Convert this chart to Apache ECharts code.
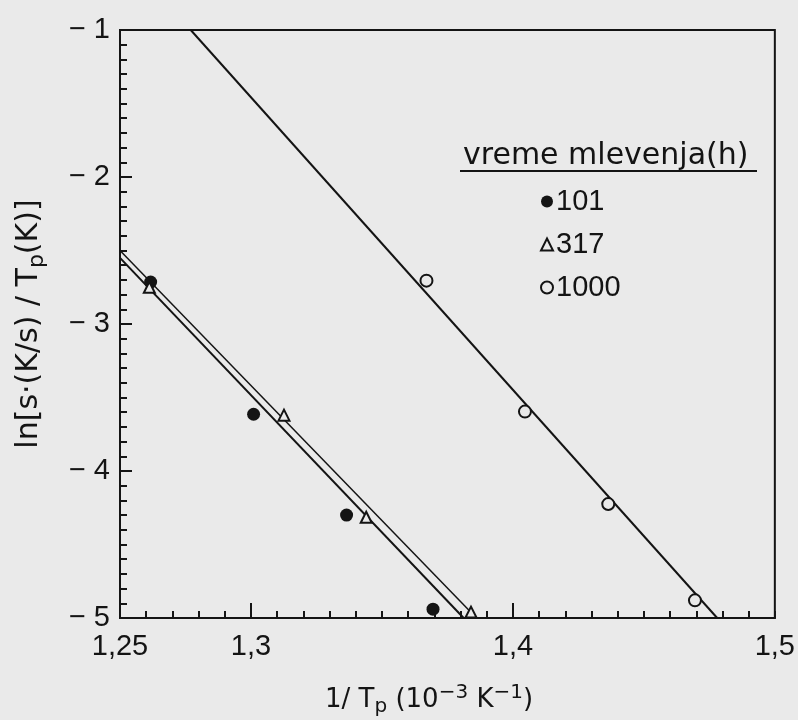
<!DOCTYPE html>
<html>
<head>
<meta charset="utf-8">
<script src="https://cdn.jsdelivr.net/npm/echarts@6/dist/echarts.min.js"></script>
<style>html,body{margin:0;padding:0;background:#eaeaea}#c{width:798px;height:720px}</style>
</head>
<body>
<div id="c"></div>
<script>
// ---- data ----
const seriesNames = ['101', '317', '1000'];
const x101 = [1.2617, 1.3010, 1.3365, 1.3695];
const y101 = [-2.715, -3.614, -4.300, -4.940];
const x317 = [1.2612, 1.3126, 1.3440, 1.3840];
const y317 = [-2.750, -3.620, -4.315, -4.960];
const x1000 = [1.3670, 1.4046, 1.4364, 1.4695];
const y1000 = [-2.705, -3.596, -4.225, -4.880];
// fitted lines (end points)
const line101X = [1.25, 1.3812];
const line101Y = [-2.55, -5];
const line317X = [1.25, 1.3861];
const line317Y = [-2.50, -5];
const line1000X = [1.2770, 1.4780];
const line1000Y = [-1, -5];
// axes
const xMin = 1.25, xMax = 1.5;
const yMin = -5, yMax = -1;
const xLabelValues = [1.25, 1.3, 1.4, 1.5];
const xMajorTickValues = [1.3, 1.4];

const ink = '#141414';
const bg = '#eaeaea';
const numFont = 'Liberation Sans';
const wordFont = 'DejaVu Sans';

function pairs(xs, ys) { return xs.map((x, i) => [x, ys[i]]); }

const chart = echarts.init(document.getElementById('c'), null, {renderer: 'canvas'});
chart.setOption({
  backgroundColor: bg,
  animation: false,
  textStyle: {fontFamily: numFont, color: ink},
  grid: {left: 120, right: 15, top: 30, bottom: 102, show: true, borderColor: ink, borderWidth: 2, backgroundColor: 'transparent'},
  title: [
    {
      text: 'vreme mlevenja(h)', left: 458, top: 136,
      textStyle: {fontFamily: wordFont, fontSize: 30, fontWeight: 'normal', color: ink}
    },
    {
      text: '1/ T{sub|p} (10{sup|−3} K{sup|−1})', left: 320, top: 678,
      textStyle: {
        fontFamily: wordFont, fontSize: 26, fontWeight: 'normal', color: ink,
        rich: {
          sub: {fontFamily: wordFont, fontSize: 20, color: ink, padding: [14, 0, 0, 0]},
          sup: {fontFamily: wordFont, fontSize: 20, color: ink, padding: [0, 0, 14, 0]}
        }
      }
    }
  ],
  graphic: [
    {type: 'line', shape: {x1: 460, y1: 171, x2: 757, y2: 171}, style: {stroke: ink, lineWidth: 2}}
  ],
  legend: {
    data: seriesNames,
    orient: 'vertical',
    left: 535, top: 182,
    itemWidth: 12, itemHeight: 12,
    itemGap: 14,
    textStyle: {fontFamily: numFont, fontSize: 29, color: ink, padding: [0, 0, 0, -2]}
  },
  xAxis: [
    {
      type: 'value', min: xMin, max: xMax, interval: 0.01,
      axisLine: {show: true, lineStyle: {color: ink, width: 2}},
      axisTick: {show: true, inside: true, length: 7, lineStyle: {color: ink, width: 2}},
      axisLabel: {
        show: true, customValues: xLabelValues, margin: 14,
        fontFamily: numFont, fontSize: 29, color: ink,
        formatter: v => String(+v.toFixed(2)).replace('.', ',')
      },
      splitLine: {show: false}
    },
    {
      type: 'value', min: xMin, max: xMax, position: 'bottom', interval: 0.01,
      axisLine: {show: false},
      axisTick: {show: true, inside: true, length: 15, customValues: xMajorTickValues, lineStyle: {color: ink, width: 2}},
      axisLabel: {show: false},
      splitLine: {show: false}
    }
  ],
  yAxis: {
    type: 'value', min: yMin, max: yMax, interval: 1,
    axisLine: {show: true, lineStyle: {color: ink, width: 2}},
    axisTick: {show: true, inside: true, length: 12, lineStyle: {color: ink, width: 2}},
    minorTick: {show: true, splitNumber: 10, length: 7, lineStyle: {color: ink, width: 2}},
    axisLabel: {
      margin: 10, fontFamily: numFont, fontSize: 29, color: ink,
      formatter: v => '− ' + Math.abs(v)
    },
    splitLine: {show: false},
    name: 'ln[s·(K/s) / T{sub|p}(K)]',
    nameLocation: 'middle', nameRotate: 90, nameGap: 72,
    nameTextStyle: {
      fontFamily: wordFont, fontSize: 30, color: ink,
      rich: {sub: {fontFamily: wordFont, fontSize: 22, color: ink, padding: [16, 0, 0, 0]}}
    }
  },
  series: [
    {
      name: '101', type: 'scatter', data: pairs(x101, y101),
      symbol: 'circle', symbolSize: 13,
      itemStyle: {color: ink, opacity: 1}, z: 5
    },
    {
      name: '317', type: 'scatter', data: pairs(x317, y317),
      symbol: 'triangle', symbolSize: 11,
      itemStyle: {color: bg, borderColor: ink, borderWidth: 2, opacity: 1}, z: 5
    },
    {
      name: '1000', type: 'scatter', data: pairs(x1000, y1000),
      symbol: 'circle', symbolSize: 12,
      itemStyle: {color: bg, borderColor: ink, borderWidth: 2, opacity: 1}, z: 5
    },
    {
      name: 'fit101', type: 'line', data: pairs(line101X, line101Y), symbol: 'none',
      lineStyle: {color: ink, width: 2}, z: 3, silent: true
    },
    {
      name: 'fit317', type: 'line', data: pairs(line317X, line317Y), symbol: 'none',
      lineStyle: {color: ink, width: 1.5}, z: 3, silent: true
    },
    {
      name: 'fit1000', type: 'line', data: pairs(line1000X, line1000Y), symbol: 'none',
      lineStyle: {color: ink, width: 2}, z: 3, silent: true
    }
  ]
});
</script>
</body>
</html>
